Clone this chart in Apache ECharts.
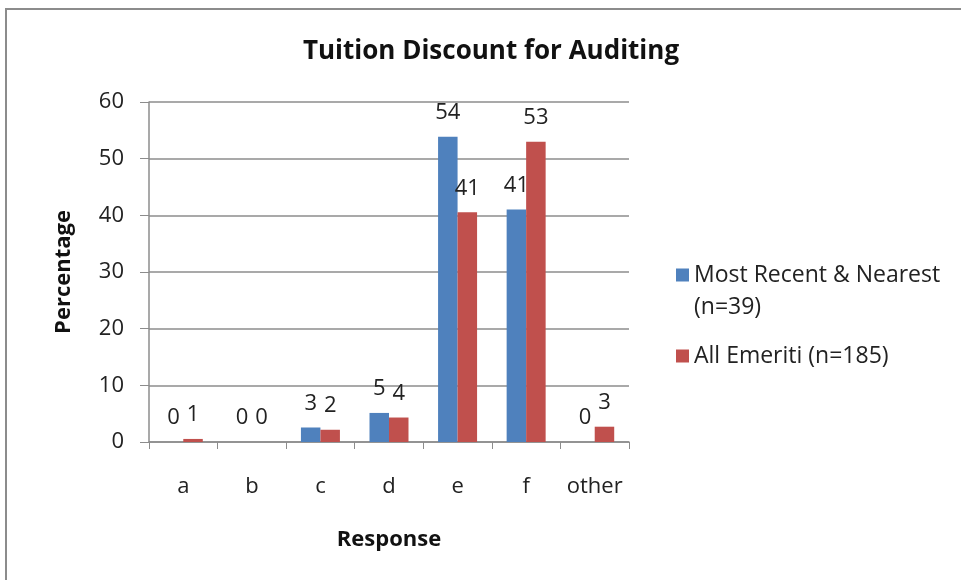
<!DOCTYPE html>
<html>
<head>
<meta charset="utf-8">
<script src="https://cdn.jsdelivr.net/npm/echarts@6/dist/echarts.min.js"></script>
<style>
  html, body { margin: 0; padding: 0; background: #fff; }
  #chart { width: 961px; height: 580px; }
</style>
</head>
<body>
<div id="chart"></div>
<script>
// 数据
var categories = ["a", "b", "c", "d", "e", "f", "other"];
var recentNearest = [0, 0, 2.56, 5.13, 53.85, 41.03, 0];   // Most Recent & Nearest (n=39)
var allEmeriti = [0.54, 0, 2.16, 4.32, 40.54, 52.97, 2.70]; // All Emeriti (n=185)
var yTicks = { min: 0, max: 60, step: 10 };

var fontName = "Open Sans";
var chart = echarts.init(document.getElementById("chart"));

var labelOpt = {
  show: true,
  position: "top",
  distance: 13,
  fontFamily: fontName,
  fontSize: 22,
  color: "#222",
  formatter: function (p) {
    return Math.round(p.value);
  },
};

chart.setOption({
  animation: false,
  textStyle: { fontFamily: fontName },
  title: {
    text: "Tuition Discount for Auditing",
    left: 486,
    top: 34,
    textAlign: "center",
    textStyle: { fontFamily: fontName, fontSize: 26, fontWeight: "bold", color: "#111" },
  },
  graphic: [
    {
      type: "rect",
      shape: { x: 6, y: 9, width: 1000, height: 700 },
      style: { fill: "none", stroke: "#8c8c8c", lineWidth: 2 },
      silent: true,
    },
  ],
  grid: { left: 149, right: 332, top: 102, bottom: 138 },
  legend: {
    orient: "vertical",
    left: 671,
    top: 222,
    itemWidth: 13,
    itemHeight: 13,
    itemGap: 17,
    icon: "rect",
    textStyle: { fontFamily: fontName, fontSize: 23, color: "#222", lineHeight: 32 },
    formatter: function (name) {
      // 第一项分两行显示，前面加空行让方块对齐第一行
      if (name.indexOf("(n=39)") > -1) {
        return "\n" + name.replace(" (n=39)", "\n(n=39)");
      }
      return name;
    },
  },
  xAxis: {
    type: "category",
    data: categories,
    name: "Response",
    nameLocation: "middle",
    nameGap: 87,
    nameTextStyle: { fontFamily: fontName, fontSize: 22, fontWeight: "bold", color: "#111" },
    axisLine: { lineStyle: { color: "#8c8c8c", width: 1.5 } },
    axisTick: { show: true, length: 7, lineStyle: { color: "#8c8c8c" } },
    axisLabel: { interval: 0, margin: 34, fontSize: 22, color: "#222", fontFamily: fontName },
  },
  yAxis: {
    type: "value",
    min: yTicks.min,
    max: yTicks.max,
    interval: yTicks.step,
    name: "Percentage",
    nameLocation: "middle",
    nameGap: 74,
    nameTextStyle: { fontFamily: fontName, fontSize: 22, fontWeight: "bold", color: "#111" },
    axisLine: { show: true, lineStyle: { color: "#8c8c8c", width: 1.5 } },
    axisTick: { show: true, length: 9, lineStyle: { color: "#8c8c8c" } },
    axisLabel: { margin: 25, fontSize: 22, color: "#222", fontFamily: fontName },
    splitLine: { lineStyle: { color: "#8c8c8c", width: 1.5 } },
  },
  series: [
    {
      name: "Most Recent & Nearest (n=39)",
      type: "bar",
      data: recentNearest,
      barWidth: 19.5,
      barGap: "0%",
      itemStyle: { color: "#4f81bd" },
      label: labelOpt,
    },
    {
      name: "All Emeriti (n=185)",
      type: "bar",
      data: allEmeriti,
      barWidth: 19.5,
      itemStyle: { color: "#c0504d" },
      label: labelOpt,
    },
  ],
});
</script>
</body>
</html>
